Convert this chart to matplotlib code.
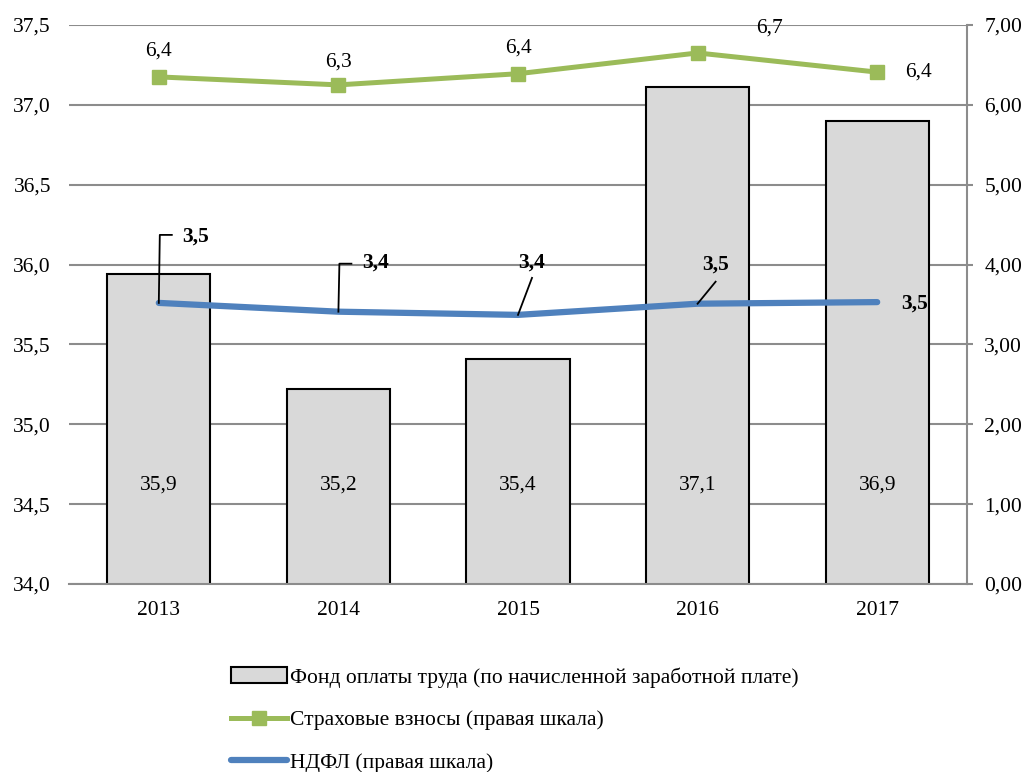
import matplotlib
matplotlib.use('Agg')
import matplotlib.pyplot as plt
from matplotlib.ticker import FuncFormatter, MultipleLocator
import numpy as np

plt.rcParams['font.family'] = ['Liberation Serif', 'DejaVu Serif']

# Data
years = ['2013', '2014', '2015', '2016', '2017']
fot = [35.94, 35.22, 35.41, 37.11, 36.90]
fot_labels = ['35,9', '35,2', '35,4', '37,1', '36,9']
insurance = [6.35, 6.25, 6.39, 6.65, 6.41]
insurance_labels = ['6,4', '6,3', '6,4', '6,7', '6,4']
ndfl = [3.52, 3.41, 3.37, 3.51, 3.53]
ndfl_labels = ['3,5', '3,4', '3,4', '3,5', '3,5']

GRID = '#8C8C8C'
GREEN = '#9BBB59'
BLUE = '#4F81BD'
BAR = '#D9D9D9'
FS = 15.5

fig = plt.figure(figsize=(10.26, 7.72), dpi=100)
ax = fig.add_axes([69 / 1026, 1 - 584 / 772, (967 - 69) / 1026, (584 - 25) / 772])
ax2 = ax.twinx()

x = np.arange(len(years))
ax.bar(x, fot, width=0.575, bottom=0, color=BAR, edgecolor='black', linewidth=1.5,
       label='Фонд оплаты труда (по начисленной заработной плате)', zorder=2)
ax.set_ylim(34.0, 37.5)
ax.set_xlim(-0.5, 4.5)
ax.yaxis.set_major_locator(MultipleLocator(0.5))
ax.yaxis.set_major_formatter(FuncFormatter(lambda v, p: f'{v:.1f}'.replace('.', ',')))
ax.set_xticks(x)
ax.set_xticklabels(years)
ax.tick_params(axis='both', length=0, labelsize=FS)
ax.tick_params(axis='y', pad=13)
ax.tick_params(axis='x', pad=12.5)
ax.yaxis.grid(True, color=GRID, linewidth=1.5, zorder=0)
ax.set_axisbelow(True)
for s in ['left', 'top', 'right']:
    ax.spines[s].set_visible(False)
ax.spines['bottom'].set_color(GRID)
ax.spines['bottom'].set_linewidth(1.5)

for xi, lab in zip(x, fot_labels):
    ax.text(xi, 34.62, lab, ha='center', va='center', fontsize=FS, zorder=3)

ax2.plot(x, insurance, color=GREEN, linewidth=3.6, marker='s', markersize=10.5,
         label='Страховые взносы (правая шкала)', zorder=3)
ax2.plot(x, ndfl, color=BLUE, linewidth=4.5, solid_capstyle='round',
         label='НДФЛ (правая шкала)', zorder=3)
ax2.set_ylim(0, 7)
ax2.yaxis.set_major_locator(MultipleLocator(1))
ax2.yaxis.set_major_formatter(FuncFormatter(lambda v, p: f'{v:.2f}'.replace('.', ',')))
ax2.tick_params(axis='y', length=4.5, width=1.5, color=GRID, labelsize=FS, pad=8)
for s in ['left', 'top', 'bottom']:
    ax2.spines[s].set_visible(False)
ax2.spines['right'].set_color(GRID)
ax2.spines['right'].set_linewidth(1.5)

# insurance labels (offsets in pixels)
ins_off = [(0, 26), (0, 23), (0, 26), (72, 25), (41, 0)]
for xi, v, lab, off in zip(x, insurance, insurance_labels, ins_off):
    ax2.annotate(lab, (xi, v), xytext=off, textcoords='offset pixels',
                 ha='center', va='center', fontsize=FS)

# NDFL labels
ndfl_off = [(37, 66), (37, 49), (14, 52), (18, 39), (37, -1)]
for xi, v, lab, off in zip(x, ndfl, ndfl_labels, ndfl_off):
    ax2.annotate(lab, (xi, v), xytext=off, textcoords='offset pixels',
                 ha='center', va='center', fontsize=FS, fontweight='bold')


def leader(i, offsets):
    px, py = ax2.transData.transform((x[i], ndfl[i]))
    pts = np.array([[px + ox, py + oy] for ox, oy in offsets])
    data = ax2.transData.inverted().transform(pts)
    ax2.plot(data[:, 0], data[:, 1], color='black', linewidth=1.3, zorder=4)


# elbow leaders for 2013 and 2014, straight ones for 2015 and 2016
leader(0, [(0, 0), (1, 68), (13, 68)])
leader(1, [(0, 0), (1, 48), (13, 48)])
leader(2, [(0, 0), (14, 37)])
leader(3, [(0, 0), (18, 22)])

h1, l1 = ax.get_legend_handles_labels()
h2, l2 = ax2.get_legend_handles_labels()
fig.legend(h1 + h2, l1 + l2, loc='upper left', bbox_to_anchor=(231 / 1026, 1 - 667 / 772),
           frameon=False, fontsize=FS, handlelength=2.6, handletextpad=0.12,
           labelspacing=1.05, borderpad=0, borderaxespad=0)

fig.savefig('out.png', dpi=100)
